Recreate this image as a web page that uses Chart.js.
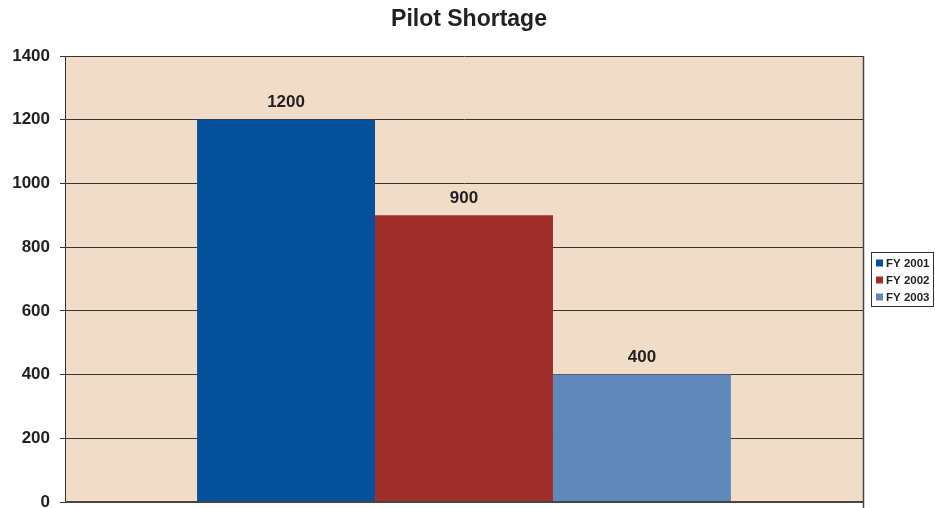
<!DOCTYPE html>
<html>
<head>
<meta charset="utf-8">
<script src="https://cdn.jsdelivr.net/npm/chart.js@4/dist/chart.umd.min.js"></script>
<style>
html,body{margin:0;padding:0;background:#fff;overflow:hidden;}
#wrap{width:935px;height:508px;}
</style>
</head>
<body>
<div id="wrap"><canvas id="c" width="935" height="508"></canvas></div>
<script>
const categories = [''];
const seriesNames = ['FY 2001', 'FY 2002', 'FY 2003'];
const seriesValues = [[1200], [900], [400]];
const seriesColors = ['#03519A', '#A02E2A', '#5F88BB'];
const yTicks = [0, 200, 400, 600, 800, 1000, 1200, 1400];
const titleText = 'Pilot Shortage';

const FONT = '"Liberation Sans", Arial, Helvetica, sans-serif';
const TEXT = '#231F20';
const GRID = '#3A3434';

const plotBg = {
  id: 'plotBg',
  beforeDraw(chart) {
    const {ctx, chartArea: a} = chart;
    ctx.save();
    ctx.fillStyle = '#F1DCC8';
    ctx.fillRect(a.left, a.top, a.right - a.left, a.bottom - a.top);
    ctx.restore();
  },
  afterDatasetsDraw(chart) {
    const {ctx, chartArea: a} = chart;
    ctx.save();
    ctx.strokeStyle = '#4A4343';
    ctx.lineWidth = 1.5;
    ctx.beginPath();
    ctx.moveTo(a.right + 0.5, a.top);
    ctx.lineTo(a.right + 0.5, a.bottom + 6);
    ctx.stroke();
    ctx.lineWidth = 2;
    ctx.beginPath();
    ctx.moveTo(a.left, a.bottom);
    ctx.lineTo(a.right + 1, a.bottom);
    ctx.stroke();
    // value labels
    ctx.fillStyle = TEXT;
    ctx.font = 'bold 17px ' + FONT;
    ctx.textAlign = 'center';
    ctx.textBaseline = 'middle';
    chart.data.datasets.forEach((ds, i) => {
      const meta = chart.getDatasetMeta(i);
      meta.data.forEach((el, j) => {
        ctx.fillText(String(ds.data[j]), el.x, el.y - 17);
      });
    });
    ctx.restore();
  },
  afterDraw(chart) {
    const {ctx} = chart;
    ctx.save();
    // title
    ctx.fillStyle = TEXT;
    ctx.font = 'bold 23px ' + FONT;
    ctx.textAlign = 'center';
    ctx.textBaseline = 'middle';
    ctx.fillText(titleText, 469, 20);
    // legend
    const bx = 871.5, by = 252.5, bw = 62, bh = 54;
    ctx.fillStyle = '#fff';
    ctx.fillRect(bx, by, bw, bh);
    ctx.strokeStyle = '#333';
    ctx.lineWidth = 1;
    ctx.strokeRect(bx, by, bw, bh);
    ctx.font = 'bold 11.5px ' + FONT;
    ctx.textAlign = 'left';
    ctx.textBaseline = 'middle';
    chart.data.datasets.forEach((ds, i) => {
      const cy = 263 + i * 17;
      ctx.fillStyle = ds.backgroundColor;
      ctx.fillRect(876, cy - 3.5, 7, 7);
      ctx.fillStyle = TEXT;
      ctx.fillText(ds.label, 886, cy + 0.5);
    });
    ctx.restore();
  }
};

new Chart(document.getElementById('c'), {
  type: 'bar',
  data: {
    labels: categories,
    datasets: seriesNames.map((n, i) => ({
      label: n,
      data: seriesValues[i],
      backgroundColor: seriesColors[i],
      borderWidth: 0,
      categoryPercentage: 0.669,
      barPercentage: 1.0
    }))
  },
  options: {
    responsive: false,
    animation: false,
    devicePixelRatio: 1,
    layout: {
      autoPadding: false,
      padding: {left: 12, right: 72, top: 56, bottom: 6}
    },
    plugins: {
      legend: {display: false},
      tooltip: {enabled: false},
      title: {display: false}
    },
    scales: {
      x: {
        display: false
      },
      y: {
        min: 0,
        max: 1400,
        afterBuildTicks(axis) { axis.ticks = yTicks.map(v => ({value: v})); },
        afterFit(axis) {
          axis.width = 53;
          axis.paddingTop = 0;
          axis.paddingBottom = 0;
        },
        ticks: {
          color: TEXT,
          font: {family: FONT, size: 17, weight: 'bold'},
          padding: 10,
          callback: (v) => String(v)
        },
        grid: {
          color: GRID,
          lineWidth: 1,
          drawTicks: true,
          tickLength: 5,
          tickColor: GRID
        },
        border: {display: true, color: GRID, width: 1}
      }
    }
  },
  plugins: [plotBg]
});
</script>
</body>
</html>
